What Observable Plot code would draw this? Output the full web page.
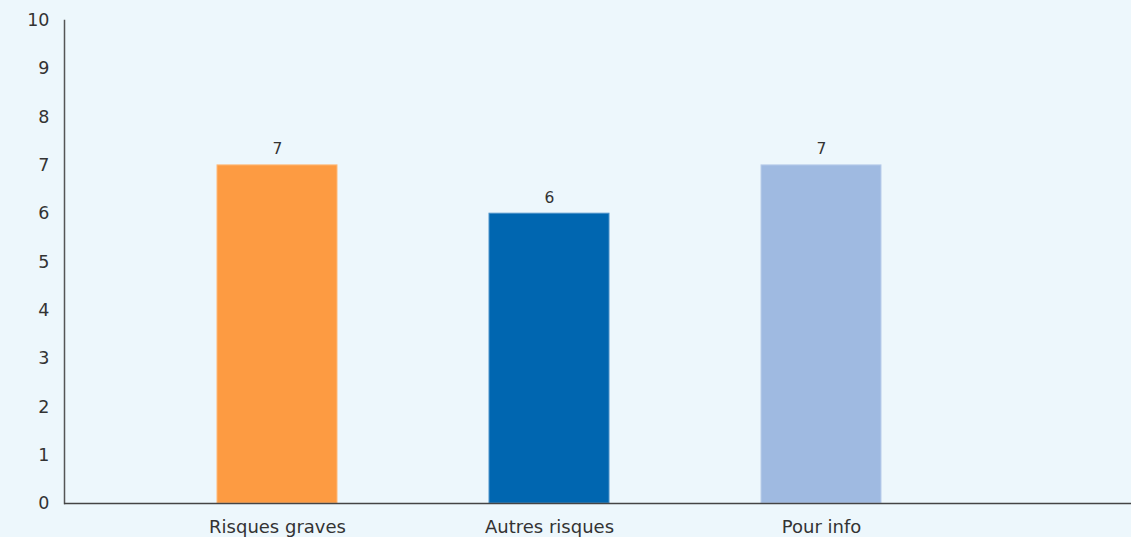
<!DOCTYPE html>
<html>
<head>
<meta charset="utf-8">
<script src="https://cdn.jsdelivr.net/npm/d3@7"></script>
<script src="https://cdn.jsdelivr.net/npm/@observablehq/plot@0.6"></script>
<style>
  html, body { margin: 0; padding: 0; background: #edf7fc; }
  #chart svg { display: block; background: #edf7fc; }
</style>
</head>
<body>
<div id="chart"></div>
<script>
const categories = ["Risques graves", "Autres risques", "Pour info"];
const values = [7, 6, 7];
const colors = ["#fd9b42", "#0066b0", "#9fbae1"];
const strokes = ["#ffb979", "#4a92c9", "#b9cdea"];
const yTicks = [0, 1, 2, 3, 4, 5, 6, 7, 8, 9, 10];

const data = categories.map((c, i) => ({ cat: c, value: values[i], fill: colors[i], stroke: strokes[i] }));

const chart = Plot.plot({
  width: 1131,
  height: 537,
  marginLeft: 64,
  marginRight: 0,
  marginTop: 20,
  marginBottom: 34,
  style: { background: "#edf7fc", fontFamily: "DejaVu Sans, Verdana, sans-serif", color: "#333" },
  x: { domain: categories, range: [64.5, 1033], padding: 0.56, label: null },
  y: { domain: [0, 10], label: null },
  marks: [
    Plot.barY(data, { x: "cat", y: "value", fill: "fill", stroke: "stroke", strokeWidth: 1 }),
    Plot.text(data, { x: "cat", y: "value", text: d => String(d.value), dy: -16, fontSize: 15.5, fill: "#333" }),
    Plot.axisY({ ticks: yTicks, tickSize: 0, tickPadding: 15, fontSize: 17.5, tickFormat: d => String(d), fill: "#333" }),
    Plot.axisX({ tickSize: 0, tickPadding: 17, fontSize: 18, fill: "#333" }),
    Plot.frame({ anchor: "left", stroke: "#555", strokeWidth: 1.5 }),
    Plot.ruleY([0], { stroke: "#444", strokeWidth: 1.5 })
  ]
});
document.getElementById("chart").appendChild(chart);
</script>
</body>
</html>
